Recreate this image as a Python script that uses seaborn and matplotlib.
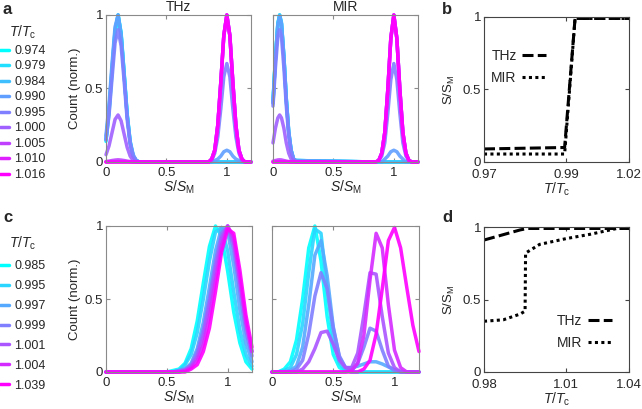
import numpy as np
import pandas as pd
import matplotlib
matplotlib.use("Agg")
import matplotlib.pyplot as plt
import seaborn as sns
from matplotlib.lines import Line2D

# ---- data ----
temps_a = ["0.974", "0.979", "0.984", "0.990", "0.995", "1.000", "1.005", "1.010", "1.016"]
temps_c = ["0.985", "0.995", "0.997", "0.999", "1.001", "1.004", "1.039"]

# panel a, THz
s_a_thz = [0, 0.025, 0.05, 0.075, 0.1, 0.125, 0.15, 0.175, 0.2, 0.225, 0.25, 0.275,
           0.85, 0.875, 0.9, 0.925, 0.95, 0.975, 1.0, 1.025, 1.05, 1.075, 1.1, 1.125, 1.15, 1.2]
cnt_a_thz = [
    [0.14, 0.33, 0.61, 0.88, 1.00, 0.88, 0.61, 0.33, 0.14, 0.04, 0.01, 0, 0, 0, 0, 0, 0, 0, 0, 0, 0, 0, 0, 0, 0, 0],
    [0.15, 0.35, 0.63, 0.89, 1.00, 0.87, 0.60, 0.32, 0.13, 0.04, 0.01, 0, 0, 0, 0, 0, 0, 0, 0, 0, 0, 0, 0, 0, 0, 0],
    [0.16, 0.36, 0.64, 0.90, 1.00, 0.87, 0.60, 0.32, 0.13, 0.04, 0.01, 0, 0, 0, 0, 0, 0, 0, 0, 0, 0, 0, 0, 0, 0, 0],
    [0.18, 0.39, 0.67, 0.92, 1.00, 0.86, 0.59, 0.32, 0.14, 0.05, 0.01, 0, 0, 0, 0.01, 0.02, 0.04, 0.07, 0.08, 0.07, 0.04, 0.02, 0.01, 0, 0, 0],
    [0.15, 0.32, 0.57, 0.81, 0.90, 0.79, 0.55, 0.29, 0.12, 0.04, 0.01, 0, 0, 0.01, 0.06, 0.17, 0.36, 0.58, 0.67, 0.58, 0.36, 0.17, 0.06, 0.01, 0, 0],
    [0.05, 0.11, 0.20, 0.29, 0.32, 0.28, 0.19, 0.10, 0.04, 0.01, 0, 0, 0, 0.02, 0.08, 0.25, 0.54, 0.86, 1.00, 0.86, 0.54, 0.25, 0.08, 0.02, 0, 0],
    [0.003, 0.006, 0.01, 0.013, 0.015, 0.013, 0.01, 0.006, 0.003, 0, 0, 0, 0, 0.02, 0.08, 0.25, 0.54, 0.86, 1.00, 0.86, 0.54, 0.25, 0.08, 0.02, 0, 0],
    [0, 0, 0, 0, 0, 0, 0, 0, 0, 0, 0, 0, 0, 0.02, 0.08, 0.25, 0.54, 0.86, 1.00, 0.86, 0.54, 0.25, 0.08, 0.02, 0, 0],
    [0, 0, 0, 0, 0, 0, 0, 0, 0, 0, 0, 0, 0, 0.02, 0.08, 0.25, 0.54, 0.86, 1.00, 0.86, 0.54, 0.25, 0.08, 0.02, 0, 0],
]

# panel a, MIR
s_a_mir = [0, 0.02, 0.04, 0.055, 0.07, 0.09, 0.11, 0.13, 0.15, 0.17, 0.19,
           0.85, 0.875, 0.9, 0.925, 0.95, 0.975, 1.0, 1.025, 1.05, 1.075, 1.1, 1.125, 1.15, 1.2]
cnt_a_mir = [
    [0.42, 0.71, 0.94, 1.00, 0.94, 0.71, 0.42, 0.20, 0.08, 0.02, 0.01, 0, 0, 0, 0, 0, 0, 0, 0, 0, 0, 0, 0, 0, 0],
    [0.41, 0.71, 0.94, 1.00, 0.94, 0.72, 0.43, 0.20, 0.08, 0.02, 0.01, 0, 0, 0, 0, 0, 0, 0, 0, 0, 0, 0, 0, 0, 0],
    [0.40, 0.70, 0.94, 1.00, 0.95, 0.72, 0.43, 0.21, 0.08, 0.02, 0.01, 0, 0, 0, 0, 0, 0, 0, 0, 0, 0, 0, 0, 0, 0],
    [0.40, 0.70, 0.93, 0.99, 0.94, 0.72, 0.43, 0.21, 0.08, 0.02, 0.01, 0, 0, 0, 0.02, 0.04, 0.07, 0.08, 0.07, 0.04, 0.02, 0, 0, 0, 0],
    [0.38, 0.64, 0.85, 0.90, 0.85, 0.64, 0.38, 0.18, 0.07, 0.02, 0, 0, 0.01, 0.04, 0.13, 0.33, 0.56, 0.67, 0.56, 0.33, 0.13, 0.04, 0.01, 0, 0],
    [0.13, 0.23, 0.30, 0.32, 0.30, 0.23, 0.13, 0.06, 0.02, 0.01, 0, 0, 0.01, 0.06, 0.20, 0.49, 0.84, 1.00, 0.84, 0.49, 0.20, 0.06, 0.01, 0, 0],
    [0.006, 0.01, 0.014, 0.015, 0.014, 0.01, 0.006, 0.003, 0, 0, 0, 0, 0.01, 0.06, 0.20, 0.49, 0.84, 1.00, 0.84, 0.49, 0.20, 0.06, 0.01, 0, 0],
    [0, 0, 0, 0, 0, 0, 0, 0, 0, 0, 0, 0, 0.01, 0.06, 0.20, 0.49, 0.84, 1.00, 0.84, 0.49, 0.20, 0.06, 0.01, 0, 0],
    [0, 0, 0, 0, 0, 0, 0, 0, 0, 0, 0, 0, 0.01, 0.06, 0.20, 0.49, 0.84, 1.00, 0.84, 0.49, 0.20, 0.06, 0.01, 0, 0],
]

# panel c, THz
s_c_thz = [0, 0.5, 0.55, 0.6, 0.65, 0.7, 0.75, 0.8, 0.85, 0.9, 0.95, 1.0, 1.05, 1.1, 1.15, 1.2]
cnt_c_thz = [
    [0, 0, 0.01, 0.02, 0.06, 0.16, 0.35, 0.61, 0.86, 1.00, 0.93, 0.69, 0.41, 0.20, 0.07, 0.02],
    [0, 0, 0, 0.01, 0.05, 0.12, 0.27, 0.50, 0.76, 0.96, 0.99, 0.83, 0.55, 0.29, 0.12, 0.04],
    [0, 0, 0, 0.01, 0.02, 0.06, 0.16, 0.34, 0.58, 0.83, 0.99, 0.96, 0.73, 0.43, 0.20, 0.07],
    [0, 0, 0, 0.01, 0.02, 0.05, 0.14, 0.29, 0.51, 0.76, 0.95, 1.00, 0.84, 0.55, 0.28, 0.11],
    [0, 0, 0, 0, 0.01, 0.04, 0.11, 0.25, 0.46, 0.71, 0.92, 1.00, 0.88, 0.61, 0.33, 0.14],
    [0, 0, 0, 0, 0.01, 0.03, 0.08, 0.19, 0.38, 0.63, 0.87, 1.00, 0.92, 0.64, 0.34, 0.14],
    [0, 0, 0, 0, 0, 0.02, 0.05, 0.14, 0.30, 0.55, 0.82, 0.98, 0.95, 0.70, 0.39, 0.17],
]

# panel c, MIR
s_c_mir = [0, 0.05, 0.1, 0.15, 0.2, 0.25, 0.3, 0.35, 0.4, 0.45, 0.5, 0.55, 0.6,
           0.65, 0.7, 0.75, 0.8, 0.85, 0.9, 0.95, 1.0, 1.05, 1.1, 1.15, 1.2]
cnt_c_mir = [
    [0, 0, 0.02, 0.07, 0.22, 0.50, 0.85, 1.00, 0.76, 0.38, 0.12, 0.03, 0.01, 0, 0, 0, 0, 0, 0, 0, 0, 0, 0, 0, 0],
    [0, 0, 0.01, 0.03, 0.12, 0.33, 0.68, 0.98, 0.95, 0.57, 0.23, 0.06, 0.01, 0, 0, 0, 0, 0, 0, 0, 0, 0, 0, 0, 0],
    [0, 0, 0, 0.01, 0.04, 0.17, 0.46, 0.80, 0.90, 0.66, 0.31, 0.10, 0.03, 0.03, 0.04, 0.055, 0.07, 0.07, 0.055, 0.035, 0.015, 0.005, 0, 0, 0],
    [0, 0, 0, 0, 0.02, 0.08, 0.26, 0.52, 0.68, 0.57, 0.30, 0.11, 0.03, 0.01, 0.06, 0.17, 0.30, 0.28, 0.15, 0.04, 0.01, 0, 0, 0, 0],
    [0, 0, 0, 0, 0, 0.02, 0.07, 0.16, 0.27, 0.28, 0.19, 0.08, 0.03, 0.03, 0.13, 0.39, 0.68, 0.67, 0.38, 0.13, 0.03, 0, 0, 0, 0],
    [0, 0, 0, 0, 0, 0, 0, 0, 0, 0, 0, 0, 0, 0.01, 0.06, 0.25, 0.63, 0.95, 0.85, 0.46, 0.15, 0.03, 0, 0, 0],
    [0, 0, 0, 0, 0, 0, 0, 0, 0, 0, 0, 0, 0, 0, 0, 0.02, 0.08, 0.26, 0.57, 0.90, 0.99, 0.85, 0.58, 0.32, 0.14],
]

# panel b: peak position vs temperature
b_t = [0.970, 0.9978, 1.0014, 1.020]
b_thz = [0.09, 0.10, 0.99, 0.99]
b_mir = [0.055, 0.055, 0.99, 0.99]

# panel d
d_t_thz = [0.980, 0.995, 0.998, 1.040]
d_thz = [0.91, 0.98, 0.99, 0.99]
d_t_mir = [0.980, 0.988, 0.995, 0.997, 0.9972, 1.003, 1.014, 1.024, 1.035, 1.040]
d_mir = [0.35, 0.36, 0.40, 0.42, 0.82, 0.88, 0.92, 0.95, 0.99, 0.99]

# ---- style ----
sns.set_style("ticks")
plt.rcParams['font.family'] = ['Liberation Sans', 'DejaVu Sans']
plt.rcParams['mathtext.fontset'] = 'custom'
plt.rcParams['mathtext.rm'] = 'Liberation Sans'
plt.rcParams['mathtext.it'] = 'Liberation Sans:italic'
plt.rcParams['mathtext.bf'] = 'Liberation Sans:bold'

W, H = 642, 409
fig = plt.figure(figsize=(W / 100, H / 100), dpi=100)


def px_axes(l, t, r, b):
    return fig.add_axes([l / W, 1 - b / H, (r - l) / W, (b - t) / H])


def style_box(ax, color, xpad=3.5):
    for sp in ax.spines.values():
        sp.set_visible(True)
        sp.set_color(color)
        sp.set_linewidth(0.8)
    ax.tick_params(direction='in', top=True, right=True, length=3, width=0.8,
                   color=color, labelsize=9.5, pad=2)
    ax.tick_params(axis='x', pad=xpad)


def hist_panel(ax, s, counts, temps, pal):
    df = pd.DataFrame({
        'S': np.tile(s, len(temps)),
        'count': np.concatenate(counts),
        'T': np.repeat(temps, len(s)),
    })
    sns.lineplot(data=df, x='S', y='count', hue='T', hue_order=temps, palette=pal,
                 estimator=None, sort=False, lw=2.5, alpha=0.9, legend=False,
                 clip_on=False, ax=ax)
    ax.set_xlim(0, 1.2)
    ax.set_ylim(0, 1)
    ax.set_xticks([0, 0.5, 1])
    ax.set_xticklabels(['0', '0.5', '1'])
    ax.set_yticks([0, 0.5, 1])
    ax.set_xlabel('$S/S_\\mathrm{M}$', fontsize=10, labelpad=0)
    ax.set_ylabel('')
    style_box(ax, '#8a8a8a')


pal_a = [plt.get_cmap('cool')(v) for v in np.linspace(0, 1, len(temps_a))]
pal_c = [plt.get_cmap('cool')(v) for v in np.linspace(0, 1, len(temps_c))]

ax_a1 = px_axes(106, 15, 251, 162)
ax_a2 = px_axes(273, 15, 418, 162)
ax_c1 = px_axes(106, 226, 252, 372)
ax_c2 = px_axes(272, 226, 419, 372)

hist_panel(ax_a1, s_a_thz, cnt_a_thz, temps_a, pal_a)
hist_panel(ax_a2, s_a_mir, cnt_a_mir, temps_a, pal_a)
hist_panel(ax_c1, s_c_thz, cnt_c_thz, temps_c, pal_c)
hist_panel(ax_c2, s_c_mir, cnt_c_mir, temps_c, pal_c)

for ax in (ax_a1, ax_c1):
    ax.set_yticklabels(['0', '0.5', '1'])
    ax.set_ylabel('Count (norm.)', fontsize=9.5, labelpad=3)
for ax in (ax_a2, ax_c2):
    ax.set_yticklabels([])
ax_a1.set_title('THz', fontsize=10, pad=3)
ax_a2.set_title('MIR', fontsize=10, pad=3)

# colour legends
for temps, pal, top, spacing in ((temps_a, pal_a, 24, 0.28), (temps_c, pal_c, 235, 0.63)):
    handles = [Line2D([], [], color=c, lw=2.5) for c in pal]
    fig.legend(handles, temps, loc='upper left', bbox_to_anchor=(0.0, 1 - top / H),
               frameon=False, fontsize=9, handlelength=0.75, handletextpad=0.4,
               labelspacing=spacing, borderaxespad=0, borderpad=0,
               title='$T/T_\\mathrm{c}$', title_fontsize=10)

# panels b and d
ax_b = px_axes(484, 17, 629, 162)
ax_d = px_axes(484, 227, 629, 372)

thz_dash = [3.6, 1.4]
mir_dot = [1, 1.1]
sns.lineplot(x=b_t, y=b_thz, color='black', lw=2.2, ax=ax_b, label='THz')
sns.lineplot(x=b_t, y=b_mir, color='black', lw=2.2, ax=ax_b, label='MIR')
sns.lineplot(x=d_t_thz, y=d_thz, color='black', lw=2.2, ax=ax_d, label='THz')
sns.lineplot(x=d_t_mir, y=d_mir, color='black', lw=2.2, ax=ax_d, label='MIR')
for ax in (ax_b, ax_d):
    ax.lines[0].set_dashes(thz_dash)
    ax.lines[1].set_dashes(mir_dot)
    ax.set_ylim(0, 1)
    ax.set_yticks([0, 0.5, 1])
    ax.set_yticklabels(['0', '0.5', '1'])
    ax.set_ylabel('S/S$_\\mathrm{M}$', fontsize=9.5, labelpad=4)
    ax.set_xlabel('$T/T_\\mathrm{c}$', fontsize=10, labelpad=0)
    style_box(ax, '#444444', xpad=5)

ax_b.set_xlim(0.97, 1.02)
ax_b.set_xticks([0.97, 0.9983, 1.02])
ax_b.set_xticklabels(['0.97', '0.99', '1.02'])
ax_d.set_xlim(0.98, 1.04)
ax_d.set_xticks([0.98, 1.014, 1.04])
ax_d.set_xticklabels(['0.98', '1.01', '1.04'])

for ax, loc, anchor in ((ax_b, 'upper left', (0.05, 0.78)), (ax_d, 'lower right', (0.88, 0.15))):
    leg = ax.legend(loc=loc, bbox_to_anchor=anchor, frameon=False, fontsize=10,
                    markerfirst=False, handlelength=1.7, handletextpad=0.4,
                    labelspacing=0.6, borderaxespad=0, borderpad=0)
    leg.get_lines()[0].set_dashes(thz_dash)
    leg.get_lines()[1].set_dashes(mir_dot)

# panel letters
for letter, x, y in (('a', 3, 10), ('b', 442, 10), ('c', 3, 218), ('d', 442, 218)):
    fig.text(x / W, 1 - y / H, letter, fontsize=12, fontweight='bold', va='center', ha='left')

fig.savefig('out.png', dpi=100)
